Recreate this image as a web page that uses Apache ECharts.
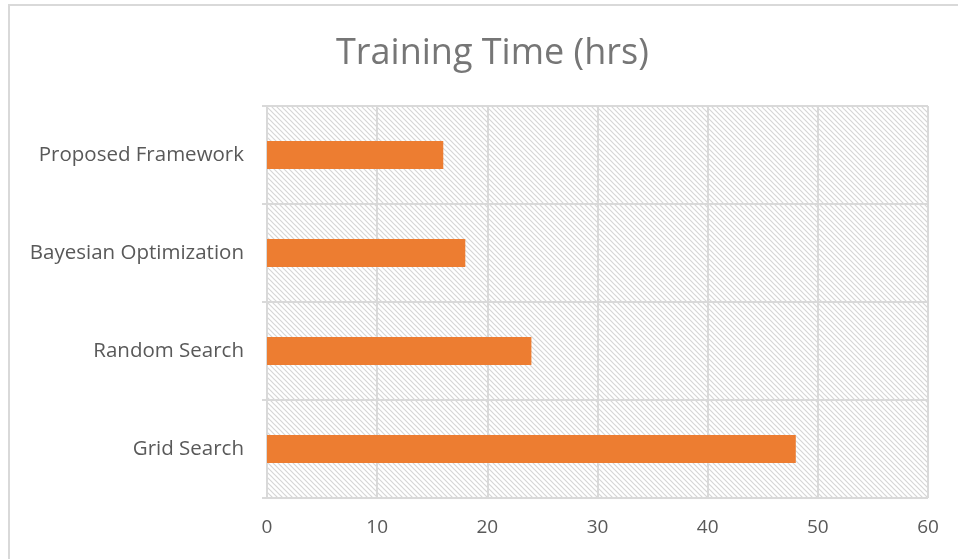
<!DOCTYPE html>
<html>
<head>
<meta charset="utf-8">
<script src="https://cdn.jsdelivr.net/npm/echarts@6/dist/echarts.min.js"></script>
<style>
  html, body { margin: 0; padding: 0; background: #fff; }
  #frame { position: absolute; left: 8px; top: 4px; width: 960px; height: 560px;
           border-left: 2px solid #d9d9d9; border-top: 2px solid #d9d9d9; }
  #chart { position: absolute; left: 0; top: 0; width: 958px; height: 559px; }
</style>
</head>
<body>
<div id="frame"></div>
<div id="chart"></div>
<script>
const categories = ['Grid Search', 'Random Search', 'Bayesian Optimization', 'Proposed Framework'];
const hours = [48, 24, 18, 16];
const xTicks = [0, 10, 20, 30, 40, 50, 60];

// diagonal hatch tile for the plot area
function hatchTile() {
  const c = document.createElement('canvas');
  c.width = 5; c.height = 5;
  const g = c.getContext('2d');
  g.fillStyle = '#ffffff';
  g.fillRect(0, 0, 5, 5);
  g.strokeStyle = '#d6d6d6';
  g.lineWidth = 1.2;
  g.beginPath();
  g.moveTo(-1, -1); g.lineTo(6, 6);
  g.moveTo(-1, 4); g.lineTo(1, 6);
  g.moveTo(4, -1); g.lineTo(6, 1);
  g.stroke();
  return c;
}

const chart = echarts.init(document.getElementById('chart'));
const axisText = '#595959';
const lineCol = '#d9d9d9';

chart.setOption({
  animation: false,
  title: {
    text: 'Training Time (hrs)',
    left: 331,
    top: 31,
    textStyle: { fontFamily: 'Open Sans', fontWeight: 'normal', fontSize: 36, color: '#767676' }
  },
  grid: {
    left: 267, right: 30, top: 106, bottom: 61,
    show: true,
    borderWidth: 0,
    backgroundColor: { image: hatchTile(), repeat: 'repeat' }
  },
  xAxis: {
    type: 'value',
    min: xTicks[0],
    max: xTicks[xTicks.length - 1],
    interval: 10,
    axisLine: { show: false },
    axisTick: { show: false },
    axisLabel: { color: axisText, fontSize: 19, fontFamily: 'Open Sans', margin: 20 },
    splitLine: { show: true, lineStyle: { color: lineCol, width: 2 } }
  },
  yAxis: {
    type: 'category',
    data: categories,
    axisLine: { show: true, lineStyle: { color: lineCol, width: 2 } },
    axisTick: { show: true, length: 5, lineStyle: { color: lineCol, width: 2 } },
    axisLabel: { color: axisText, fontSize: 20.5, fontFamily: 'Open Sans', margin: 23 },
    splitLine: { show: true, lineStyle: { color: lineCol, width: 2 } }
  },
  series: [{
    type: 'bar',
    data: hours,
    barWidth: 28,
    itemStyle: { color: '#ed7d31' }
  }]
});
</script>
</body>
</html>
